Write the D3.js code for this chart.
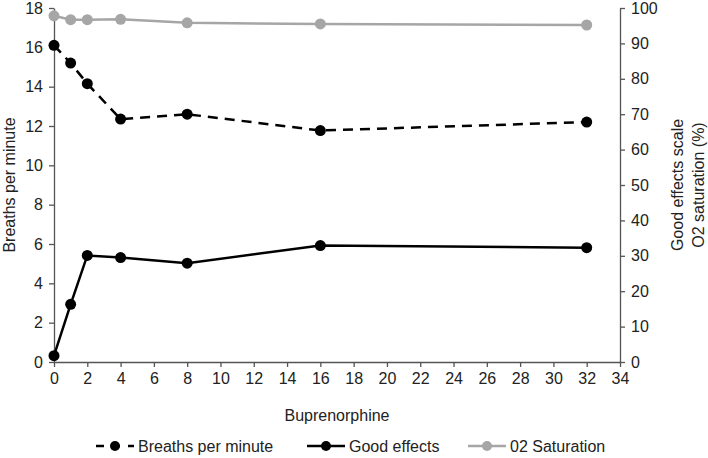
<!DOCTYPE html>
<html>
<head>
<meta charset="utf-8">
<script src="https://cdn.jsdelivr.net/npm/d3@7"></script>
<style>
  body { margin: 0; background: #fff; }
  text { font-family: "Liberation Sans", Arial, sans-serif; fill: #222; }
</style>
</head>
<body>
<svg id="chart"></svg>
<script>
// doses (x) and the three series
const doses = [0, 1, 2, 4, 8, 16, 32]
const breaths = [16.1, 15.2, 14.15, 12.35, 12.6, 11.77, 12.2]       // left axis
const goodEffects = [1.8, 16.3, 30.1, 29.5, 27.9, 32.9, 32.3]       // right axis
const o2Saturation = [97.8, 96.7, 96.7, 96.8, 95.8, 95.5, 95.2]     // right axis

const xTicks = d3.range(0, 35, 2)
const leftTicks = d3.range(0, 19, 2)
const rightTicks = d3.range(0, 101, 10)

const width = 708
const height = 458
const margin = { left: 54, right: 88, top: 8, bottom: 96 }
const fontSize = 16

const svg = d3.select('#chart').attr('width', width).attr('height', height)

const x = d3.scaleLinear().domain([0, 34]).range([margin.left, width - margin.right])
const yLeft = d3.scaleLinear().domain([0, 18]).range([height - margin.bottom, margin.top])
const yRight = d3.scaleLinear().domain([0, 100]).range([height - margin.bottom, margin.top])

function styleAxis(g) {
  g.selectAll('path, line').attr('stroke', '#555').attr('stroke-width', 1.3)
  g.selectAll('text').attr('font-size', fontSize).attr('fill', '#222')
    .attr('font-family', '"Liberation Sans", Arial, sans-serif')
}

svg.append('g')
  .attr('transform', `translate(0,${height - margin.bottom})`)
  .call(d3.axisBottom(x).tickValues(xTicks).tickSize(5).tickPadding(6).tickSizeOuter(0))
  .call(styleAxis)

svg.append('g')
  .attr('transform', `translate(${margin.left},0)`)
  .call(d3.axisLeft(yLeft).tickValues(leftTicks).tickSize(5).tickPadding(6).tickSizeOuter(0))
  .call(styleAxis)

svg.append('g')
  .attr('transform', `translate(${width - margin.right},0)`)
  .call(d3.axisRight(yRight).tickValues(rightTicks).tickSize(5).tickPadding(6).tickSizeOuter(0))
  .call(styleAxis)

// axis titles
svg.append('text')
  .attr('x', (margin.left + width - margin.right) / 2)
  .attr('y', 421)
  .attr('text-anchor', 'middle')
  .attr('font-size', fontSize)
  .text('Buprenorphine')

svg.append('text')
  .attr('transform', `translate(15,${yLeft(9)}) rotate(-90)`)
  .attr('text-anchor', 'middle')
  .attr('font-size', fontSize)
  .text('Breaths per minute')

const rightTitle = svg.append('text')
  .attr('transform', `translate(683,${yRight(50)}) rotate(-90)`)
  .attr('text-anchor', 'middle')
  .attr('font-size', fontSize)
rightTitle.append('tspan').attr('x', 0).attr('dy', 0).text('Good effects scale')
rightTitle.append('tspan').attr('x', 0).attr('dy', 21).text('O2 saturation (%)')

function drawSeries(values, yScale, color, dash) {
  const pts = doses.map((d, i) => [x(d), yScale(values[i])])
  const g = svg.append('g')
  g.append('path')
    .attr('d', d3.line()(pts))
    .attr('fill', 'none')
    .attr('stroke', color)
    .attr('stroke-width', 2.5)
    .attr('stroke-dasharray', dash)
  g.selectAll('circle')
    .data(pts)
    .join('circle')
    .attr('cx', p => p[0])
    .attr('cy', p => p[1])
    .attr('r', 5.5)
    .attr('fill', color)
}

drawSeries(o2Saturation, yRight, '#a6a6a6', null)
drawSeries(goodEffects, yRight, '#000', null)
drawSeries(breaths, yLeft, '#000', '10,7')

// legend
const legendItems = [
  { name: 'Breaths per minute', color: '#000', dash: '8,8', x0: 96 },
  { name: 'Good effects', color: '#000', dash: null, x0: 307 },
  { name: '02 Saturation', color: '#a6a6a6', dash: null, x0: 468 }
]
const legend = svg.append('g').attr('class', 'legend')
legendItems.forEach(item => {
  const ly = 446
  legend.append('line')
    .attr('x1', item.x0).attr('x2', item.x0 + 38)
    .attr('y1', ly).attr('y2', ly)
    .attr('stroke', item.color)
    .attr('stroke-width', 2.5)
    .attr('stroke-dasharray', item.dash)
  legend.append('circle')
    .attr('cx', item.x0 + 19).attr('cy', ly).attr('r', 5)
    .attr('fill', item.color)
  legend.append('text')
    .attr('x', item.x0 + 42).attr('y', ly)
    .attr('dominant-baseline', 'central')
    .attr('font-size', fontSize)
    .text(item.name)
})
</script>
</body>
</html>
